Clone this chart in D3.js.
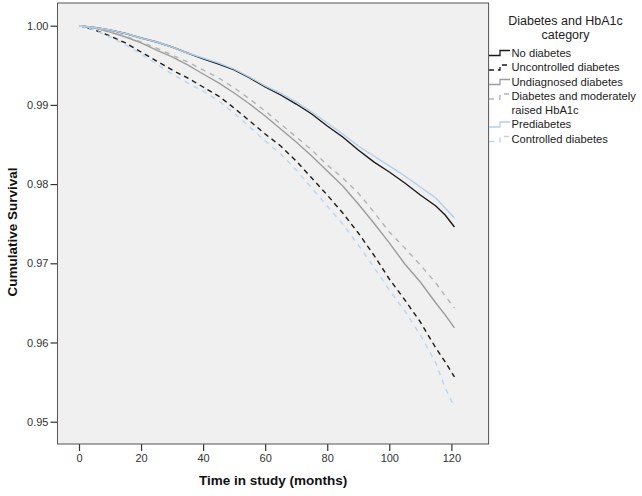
<!DOCTYPE html>
<html>
<head>
<meta charset="utf-8">
<script src="https://cdn.jsdelivr.net/npm/d3@7/dist/d3.min.js"></script>
<style>
  html, body { margin: 0; padding: 0; background: #ffffff; }
  svg { display: block; font-family: "Liberation Sans", Arial, sans-serif; }
</style>
</head>
<body>
<svg id="chart" width="642" height="496"></svg>
<script>
// ---- Data ----
const months = [0,5,10,15,20,25,30,35,40,45,50,55,60,65,70,75,80,85,90,95,100,105,110,115,118,121];

const noDiabetes = [1.0000,0.99977,0.99946,0.99902,0.99845,0.99794,0.99731,0.99655,0.99580,0.99516,0.99441,0.99340,0.99226,0.99125,0.99011,0.98885,0.98734,0.98595,0.98431,0.98280,0.98153,0.98014,0.97862,0.97723,0.97610,0.97458];
const uncontrolled = [1.0000,0.99946,0.99870,0.99782,0.99668,0.99554,0.99441,0.99340,0.99226,0.99112,0.98961,0.98797,0.98633,0.98481,0.98292,0.98077,0.97862,0.97635,0.97383,0.97105,0.96802,0.96537,0.96259,0.95931,0.95754,0.95565];
const undiagnosed = [1.0000,0.99971,0.99920,0.99857,0.99782,0.99693,0.99605,0.99504,0.99390,0.99277,0.99150,0.99011,0.98860,0.98696,0.98532,0.98355,0.98165,0.97976,0.97749,0.97509,0.97257,0.96991,0.96764,0.96499,0.96348,0.96184];
const moderatelyRaised = [1.0000,0.99971,0.99927,0.99870,0.99794,0.99718,0.99630,0.99542,0.99441,0.99340,0.99214,0.99074,0.98923,0.98759,0.98595,0.98431,0.98241,0.98077,0.97888,0.97648,0.97395,0.97193,0.96979,0.96751,0.96587,0.96436];
const prediabetes = [1.0000,0.99977,0.99946,0.99902,0.99845,0.99794,0.99731,0.99655,0.99592,0.99529,0.99453,0.99352,0.99239,0.99150,0.99037,0.98910,0.98771,0.98633,0.98481,0.98355,0.98229,0.98102,0.97963,0.97824,0.97698,0.97572];
const controlled = [1.0000,0.99946,0.99857,0.99756,0.99643,0.99516,0.99390,0.99277,0.99176,0.99049,0.98898,0.98721,0.98545,0.98380,0.98178,0.97951,0.97723,0.97496,0.97231,0.96954,0.96663,0.96398,0.96095,0.95742,0.95426,0.95186];

const categories = ["No diabetes","Uncontrolled diabetes","Undiagnosed diabetes","Diabetes and moderately raised HbA1c","Prediabetes","Controlled diabetes"];
const legendLines = [["No diabetes"],["Uncontrolled diabetes"],["Undiagnosed diabetes"],["Diabetes and moderately","raised HbA1c"],["Prediabetes"],["Controlled diabetes"]];
const xTicks = [0,20,40,60,80,100,120];
const yTicks = [0.95,0.96,0.97,0.98,0.99,1.00];

const seriesValues = [noDiabetes, uncontrolled, undiagnosed, moderatelyRaised, prediabetes, controlled];
const styles = [
  {color:"#1a1a1a", dash:null},
  {color:"#1a1a1a", dash:"5,4"},
  {color:"#9c9c9c", dash:null},
  {color:"#b3b3b3", dash:"5,5"},
  {color:"#b2cfea", dash:null},
  {color:"#b9d5ef", dash:"5,5"}
];

// ---- Layout ----
const svg = d3.select("#chart");
const L = 57.5, R = 488.6, T = 3, B = 444;

const x = d3.scaleLinear().domain([-6.93, 132]).range([L, R]);
const y = d3.scaleLinear().domain([0.947184, 1.002866]).range([B, T]);

// plot background
svg.append("rect").attr("x", L).attr("y", T).attr("width", R - L).attr("height", B - T)
  .attr("fill", "#f0f0f0");

// axes
const xAxis = d3.axisBottom(x).tickValues(xTicks).tickSize(7).tickPadding(3).tickFormat(d3.format("d"));
const gx = svg.append("g").attr("transform", `translate(0,${B})`).call(xAxis);
const yAxis = d3.axisLeft(y).tickValues(yTicks).tickSize(7).tickPadding(2).tickFormat(d3.format(".2f"));
const gy = svg.append("g").attr("transform", `translate(${L},0)`).call(yAxis);
[gx, gy].forEach(g => {
  g.select(".domain").remove();
  g.selectAll(".tick line").attr("stroke", "#333").attr("stroke-width", 1.2);
  g.selectAll(".tick text").attr("fill", "#333").style("font-size", "11px")
    .style("font-family", "'Liberation Sans', Arial, sans-serif");
});

// curves
const line = d3.line().x((d, i) => x(months[i])).y(d => y(d)).curve(d3.curveLinear);
const plot = svg.append("g");
seriesValues.forEach((vals, k) => {
  plot.append("path").datum(vals)
    .attr("d", line)
    .attr("fill", "none")
    .attr("stroke", styles[k].color)
    .attr("stroke-width", 1.4)
    .attr("stroke-dasharray", styles[k].dash);
});

// border
svg.append("rect").attr("x", L).attr("y", T).attr("width", R - L).attr("height", B - T)
  .attr("fill", "none").attr("stroke", "#555").attr("stroke-width", 1);

// axis titles
svg.append("text").attr("x", (L + R) / 2).attr("y", 485).attr("text-anchor", "middle")
  .style("font-size", "13.5px").style("font-weight", "bold").attr("fill", "#111")
  .text("Time in study (months)");
svg.append("text").attr("transform", `translate(17,${232}) rotate(-90)`).attr("text-anchor", "middle")
  .style("font-size", "13.5px").style("font-weight", "bold").attr("fill", "#111")
  .text("Cumulative Survival");

// legend
const lg = svg.append("g");
lg.append("text").attr("x", 565.5).attr("y", 25).attr("text-anchor", "middle")
  .style("font-size", "12.5px").attr("fill", "#222").text("Diabetes and HbA1c");
lg.append("text").attr("x", 565.5).attr("y", 38.5).attr("text-anchor", "middle")
  .style("font-size", "12.5px").attr("fill", "#222").text("category");

const baseY = [56.5, 71, 85.5, 100, 128, 142.5];
legendLines.forEach((lines, k) => {
  const by = baseY[k];
  const s = styles[k];
  lg.append("path")
    .attr("d", `M489,${by - 1} H500 V${by - 6} H510`)
    .attr("fill", "none").attr("stroke", s.color).attr("stroke-width", 1.3)
    .attr("stroke-dasharray", s.dash);
  lines.forEach((t, j) => {
    lg.append("text").attr("x", 511.5).attr("y", by + j * 13.5)
      .style("font-size", "11.2px").attr("fill", "#222").text(t);
  });
});
</script>
</body>
</html>
